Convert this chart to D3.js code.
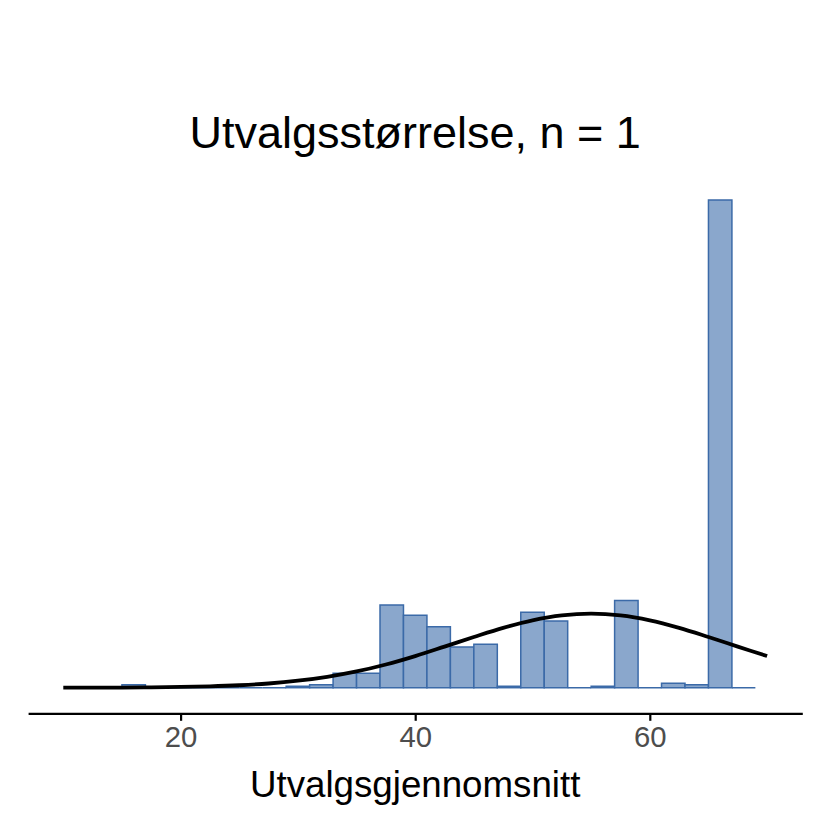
<!DOCTYPE html>
<html>
<head>
<meta charset="utf-8">
<script src="https://cdn.jsdelivr.net/npm/d3@7"></script>
<style>
  html, body { margin: 0; padding: 0; background: #ffffff; }
  svg { display: block; }
</style>
</head>
<body>
<script>
// ---- data ----
const binStarts = [15,17,19,21,23,25,27,29,31,33,35,37,39,41,43,45,47,49,51,53,55,57,59,61,63,65,67];
const binCounts = [2,0,0,0,0,0,0,1,2,10,10,57,50,42,28,30,1,52,46,0,1,60,0,3,2,336,0];
const binWidth = 2;
const curveX = [10,12.5,15,17.5,20,22.5,25,27.5,30,32.5,35,37.5,40,42.5,45,47.5,50,52.5,55,57.5,60,62.5,65,67.5,70];
const curveY = [0.02,0.06,0.12,0.25,0.5,0.94,1.7,2.9,4.8,7.5,11.2,16.0,21.8,28.3,34.9,41.2,46.4,49.8,51,49.8,46.4,41.2,34.9,28.3,21.8];
const xTicks = [20,40,60];
const titleText = "Utvalgsstørrelse, n = 1";
const xLabel = "Utvalgsgjennomsnitt";

// ---- layout ----
const W = 822, H = 822;
const svg = d3.select("body").append("svg").attr("width", W).attr("height", H);

const x = d3.scaleLinear().domain([7, 73]).range([28.1, 802.3]);
const y = d3.scaleLinear().domain([0, d3.max(binCounts)]).range([687.7, 200]);
const axisY = 713.3;

// bars (as closed paths so that empty bins still show their outline on the baseline)
svg.append("g").selectAll("path")
  .data(binStarts.map((s, i) => ({s, c: binCounts[i]})))
  .join("path")
  .attr("d", d => {
    const x0 = x(d.s), x1 = x(d.s + binWidth), y0 = y(0), y1 = y(d.c);
    return `M${x0},${y0}L${x0},${y1}L${x1},${y1}L${x1},${y0}Z`;
  })
  .attr("fill", "#8AA7CC")
  .attr("stroke", "#3B6AA8")
  .attr("stroke-width", 1.5);

// density curve
const line = d3.line()
  .x((d, i) => x(curveX[i]))
  .y(d => y(d))
  .curve(d3.curveCatmullRom);
svg.append("path")
  .datum(curveY)
  .attr("d", line)
  .attr("fill", "none")
  .attr("stroke", "#000000")
  .attr("stroke-width", 3.8)
  .attr("stroke-linejoin", "round");

// x axis
const axis = d3.axisBottom(x).tickValues(xTicks).tickSize(7.5).tickSizeOuter(0).tickPadding(5);
const gx = svg.append("g").attr("transform", `translate(0,${axisY})`).call(axis);
gx.select(".domain").attr("stroke", "#000").attr("stroke-width", 2.2);
gx.selectAll(".tick line").attr("stroke", "#000").attr("stroke-width", 2.2);
gx.selectAll(".tick text")
  .attr("fill", "#4D4D4D")
  .attr("font-family", "'Liberation Sans', Arial, sans-serif")
  .attr("font-size", 29.3)
  .attr("dy", "0.71em");

// axis title
svg.append("text")
  .attr("x", (x.range()[0] + x.range()[1]) / 2)
  .attr("y", 797)
  .attr("text-anchor", "middle")
  .attr("font-family", "'Liberation Sans', Arial, sans-serif")
  .attr("font-size", 36.7)
  .attr("fill", "#000")
  .text(xLabel);

// title
svg.append("text")
  .attr("x", (x.range()[0] + x.range()[1]) / 2)
  .attr("y", 148)
  .attr("text-anchor", "middle")
  .attr("font-family", "'Liberation Sans', Arial, sans-serif")
  .attr("font-size", 45)
  .attr("fill", "#000")
  .text(titleText);
</script>
</body>
</html>
